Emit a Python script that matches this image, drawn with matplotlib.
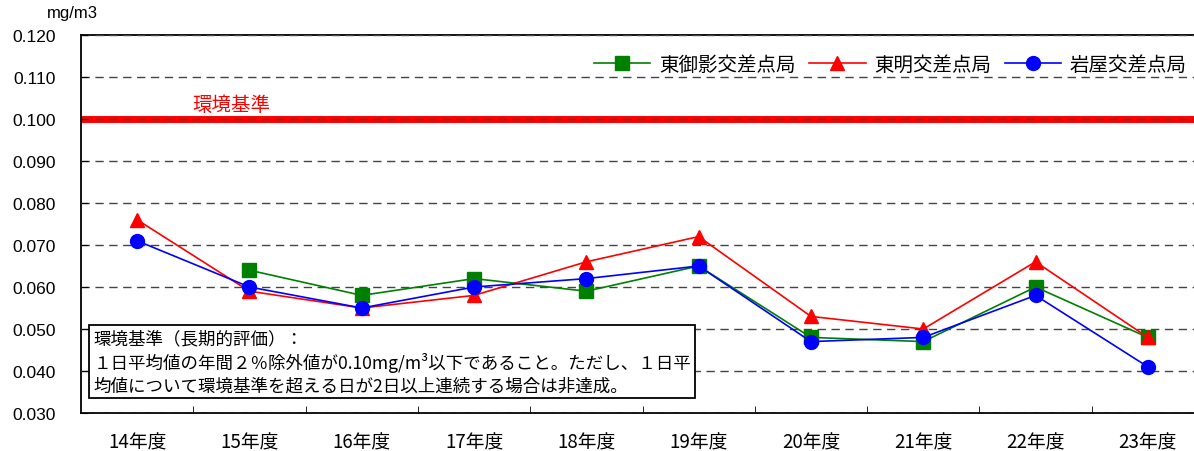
import matplotlib
matplotlib.use("Agg")
import matplotlib.pyplot as plt
import numpy as np

plt.rcParams["font.family"] = ["Noto Sans CJK JP", "DejaVu Sans"]

years = ["14年度", "15年度", "16年度", "17年度", "18年度",
         "19年度", "20年度", "21年度", "22年度", "23年度"]
higashi_mikage = [np.nan, 0.064, 0.058, 0.062, 0.059, 0.065, 0.048, 0.047, 0.060, 0.048]
higashi_akashi = [0.076, 0.059, 0.055, 0.058, 0.066, 0.072, 0.053, 0.050, 0.066, 0.048]
iwaya = [0.071, 0.060, 0.055, 0.060, 0.062, 0.065, 0.047, 0.048, 0.058, 0.041]
standard = 0.100
yticks = [0.030, 0.040, 0.050, 0.060, 0.070, 0.080, 0.090, 0.100, 0.110, 0.120]

fig = plt.figure(figsize=(11.94, 4.52), dpi=100)
ax = fig.add_axes([81 / 1194, 38 / 452, 1123 / 1194, 378 / 452])
ax.set_axisbelow(False)

x = np.arange(len(years))

ax.axhline(standard, color="red", lw=5, zorder=1)
ax.text(0.84, 0.1035, "環境基準", color="red", fontsize=14, ha="center", va="center")

ax.plot(x, higashi_mikage, color="green", marker="s", ms=9.5, lw=1.2,
        label="東御影交差点局", zorder=3)
ax.plot(x, higashi_akashi, color="red", marker="^", ms=10.5, lw=1.2,
        label="東明交差点局", zorder=4)
ax.plot(x, iwaya, color="blue", marker="o", ms=10, lw=1.2,
        label="岩屋交差点局", zorder=5)

ax.set_ylim(0.030, 0.120)
ax.set_xlim(-0.5, len(years) - 0.5)
ax.set_yticks(yticks)
ax.set_yticklabels(["%.3f" % v for v in yticks], family=["Liberation Sans"], fontsize=12.5)
ax.yaxis.grid(True, linestyle=(0, (6, 4)), color="#444444", lw=1, zorder=2)

ax.set_xticks(x)
ax.set_xticklabels(years, fontsize=13.5)
ax.set_xticks(np.arange(0.5, len(years) - 0.5, 1), minor=True)
ax.tick_params(axis="x", which="major", length=0, pad=13)
ax.tick_params(axis="x", which="minor", direction="in", length=5, color="black")
ax.tick_params(axis="y", direction="in", length=5, pad=18)

for s in ["left", "bottom", "top"]:
    ax.spines[s].set_linewidth(1.3)
ax.spines["right"].set_visible(False)

ax.text(-0.008, 1.04, "mg/m3", transform=ax.transAxes, fontsize=12,
        family=["Liberation Sans"], ha="center", va="bottom")

note = ("環境基準（長期的評価）：\n"
        "１日平均値の年間２％除外値が0.10mg/m³以下であること。ただし、１日平\n"
        "均値について環境基準を超える日が2日以上連続する場合は非達成。")
ax.text(0.011, 0.222, note, transform=ax.transAxes, fontsize=12.6, ha="left", va="top",
        linespacing=1.3, zorder=6,
        bbox=dict(boxstyle="square,pad=0.25", facecolor="white", edgecolor="black", lw=1.3))

leg = ax.legend(loc="upper right", bbox_to_anchor=(0.997, 0.985), ncol=3, frameon=False,
                fontsize=14, handlelength=2.9, columnspacing=0.7, handletextpad=0.45,
                borderaxespad=0.3)
leg.set_zorder(7)

fig.savefig("out.png", dpi=100)
